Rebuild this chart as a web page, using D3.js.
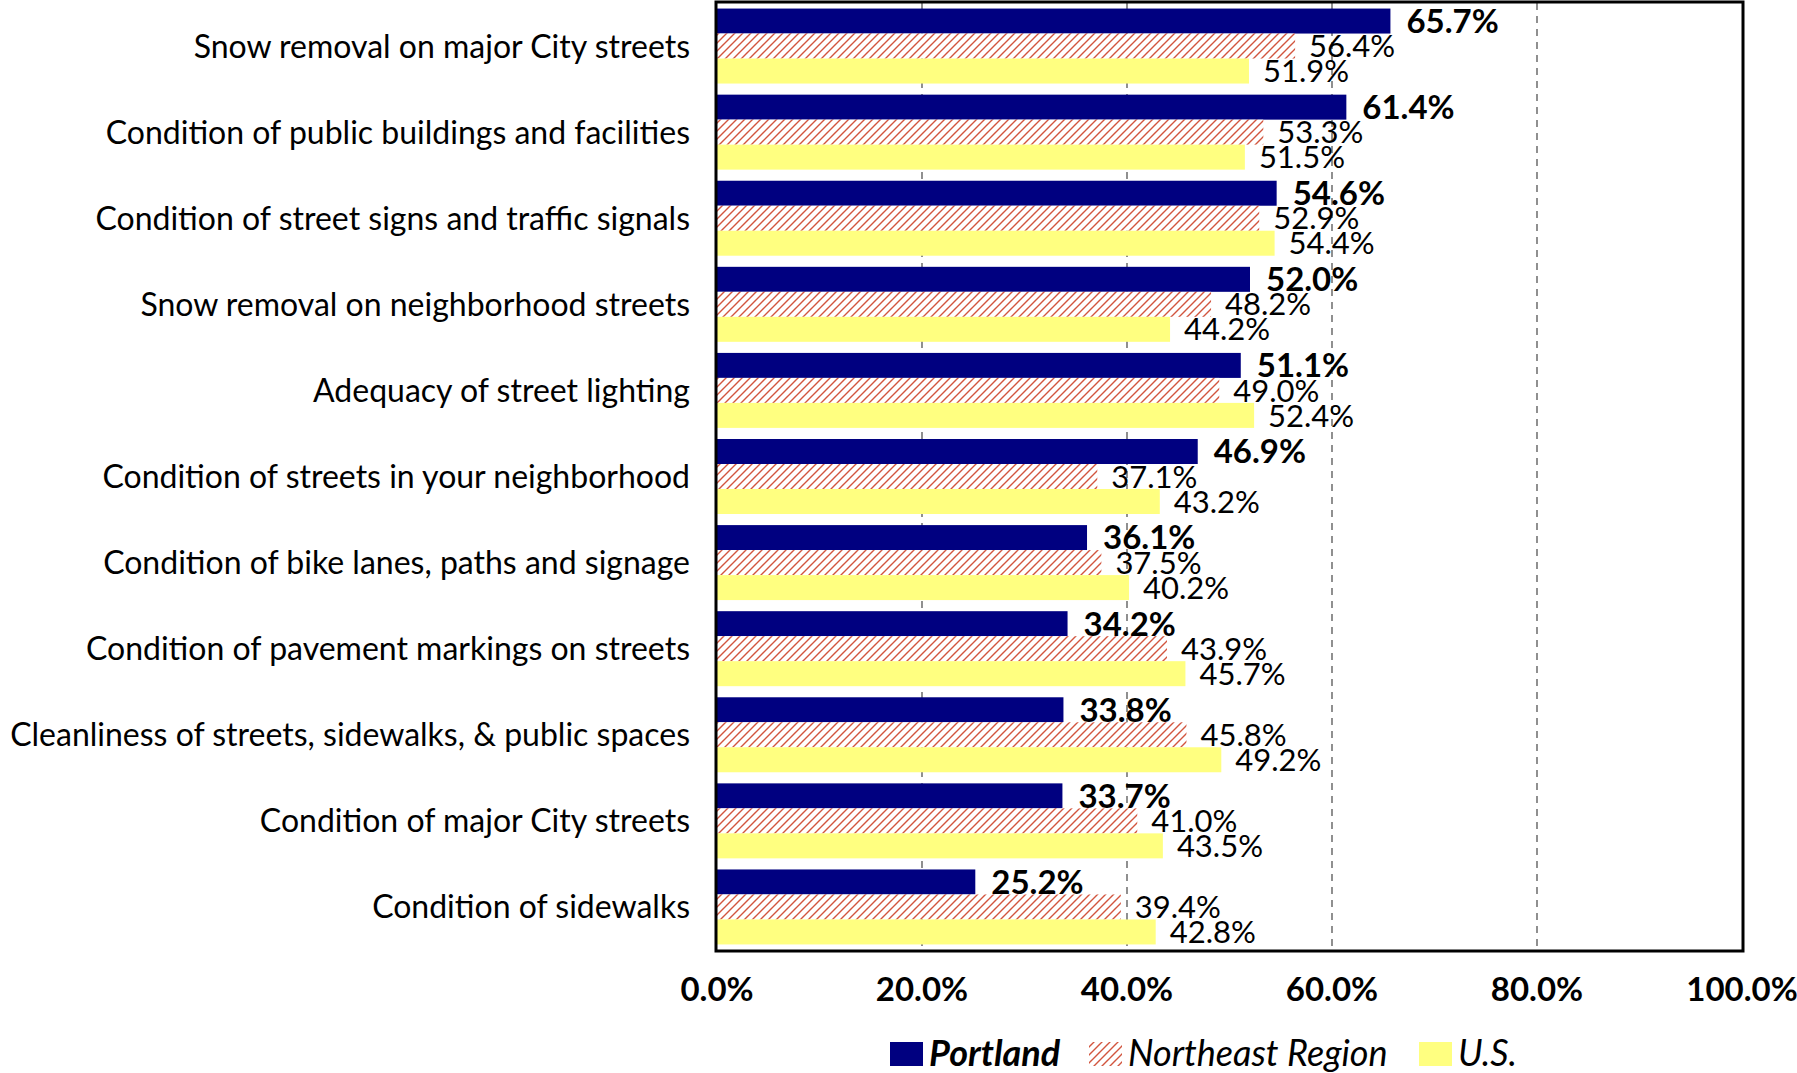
<!DOCTYPE html>
<html>
<head>
<meta charset="utf-8">
<script src="https://cdn.jsdelivr.net/npm/d3@7"></script>
<style>
  html, body { margin: 0; padding: 0; background: #fff; }
  svg { display: block; }
  text { font-family: Lato, "Open Sans", sans-serif; fill: #000; }
</style>
</head>
<body>
<svg id="chart" width="1797" height="1073"></svg>
<script>
const categories = [
  "Snow removal on major City streets",
  "Condition of public buildings and facilities",
  "Condition of street signs and traffic signals",
  "Snow removal on neighborhood streets",
  "Adequacy of street lighting",
  "Condition of streets in your neighborhood",
  "Condition of bike lanes, paths and signage",
  "Condition of pavement markings on streets",
  "Cleanliness of streets, sidewalks, & public spaces",
  "Condition of major City streets",
  "Condition of sidewalks"
];
const seriesNames = ["Portland", "Northeast Region", "U.S."];
const portland  = [65.7, 61.4, 54.6, 52.0, 51.1, 46.9, 36.1, 34.2, 33.8, 33.7, 25.2];
const northeast = [56.4, 53.3, 52.9, 48.2, 49.0, 37.1, 37.5, 43.9, 45.8, 41.0, 39.4];
const us        = [51.9, 51.5, 54.4, 44.2, 52.4, 43.2, 40.2, 45.7, 49.2, 43.5, 42.8];
const xTicks = [0, 20, 40, 60, 80, 100];

const seriesValues = [portland, northeast, us];

const svg = d3.select("#chart");
const plot = { left: 717, right: 1742, top: 3, bottom: 950 };

const x = d3.scaleLinear().domain([0, 100]).range([plot.left, plot.right]);
const y = d3.scaleBand().domain(categories).range([plot.top, plot.bottom])
  .paddingInner(0.129).paddingOuter(0.0645);
const ys = d3.scaleBand().domain(seriesNames).range([0, y.bandwidth()]);

// hatch pattern
const defs = svg.append("defs");
const pat = defs.append("pattern")
  .attr("id", "hatch").attr("patternUnits", "userSpaceOnUse")
  .attr("width", 8).attr("height", 8);
pat.append("rect").attr("width", 8).attr("height", 8).attr("fill", "#fff");
pat.append("path").attr("d", "M-2,2 L2,-2 M0,8 L8,0 M6,10 L10,6")
  .attr("stroke", "#d2553e").attr("stroke-width", 1.4);

const fills = ["#000080", "url(#hatch)", "#ffff80"];

// gridlines
svg.append("g").selectAll("line").data(xTicks.filter(t => t > 0 && t < 100))
  .join("line")
  .attr("x1", d => x(d)).attr("x2", d => x(d))
  .attr("y1", plot.top).attr("y2", plot.bottom)
  .attr("stroke", "#555").attr("stroke-width", 1.3)
  .attr("stroke-dasharray", "7,6");

// bars
seriesValues.forEach((vals, si) => {
  svg.append("g").selectAll("rect").data(categories)
    .join("rect")
    .attr("x", x(0))
    .attr("y", (c) => y(c) + ys(seriesNames[si]))
    .attr("width", (c, i) => x(vals[i]) - x(0))
    .attr("height", ys.bandwidth())
    .attr("fill", fills[si]);
});

// value labels
seriesValues.forEach((vals, si) => {
  svg.append("g").selectAll("text").data(categories)
    .join("text")
    .attr("x", (c, i) => x(vals[i]) + (si === 0 ? 16 : 14))
    .attr("y", (c) => y(c) + ys(seriesNames[si]) + ys.bandwidth() / 2)
    .attr("dy", "0.36em")
    .attr("font-size", si === 0 ? 33 : 31)
    .attr("font-weight", si === 0 ? "bold" : "normal")
    .text((c, i) => vals[i].toFixed(1) + "%");
});

// border
svg.append("rect")
  .attr("x", plot.left - 1).attr("y", plot.top - 1)
  .attr("width", plot.right - plot.left + 2).attr("height", plot.bottom - plot.top + 2)
  .attr("fill", "none").attr("stroke", "#000").attr("stroke-width", 3);

// category labels
svg.append("g").selectAll("text").data(categories)
  .join("text")
  .attr("x", 690)
  .attr("y", c => y(c) + y.bandwidth() / 2)
  .attr("dy", "0.36em")
  .attr("text-anchor", "end")
  .attr("font-size", 32)
  .text(c => c);

// x tick labels
svg.append("g").selectAll("text").data(xTicks)
  .join("text")
  .attr("x", d => x(d))
  .attr("y", 1001)
  .attr("text-anchor", "middle")
  .attr("font-size", 33)
  .attr("font-weight", "bold")
  .text(d => d.toFixed(1) + "%");

// legend
const legendX = [890, 1089, 1419];
const legend = svg.append("g");
seriesNames.forEach((name, i) => {
  legend.append("rect")
    .attr("x", legendX[i]).attr("y", 1042)
    .attr("width", 33).attr("height", 24)
    .attr("fill", fills[i]);
  legend.append("text")
    .attr("x", legendX[i] + 39).attr("y", 1066)
    .attr("font-size", 36)
    .attr("font-style", "italic")
    .attr("font-weight", i === 0 ? "bold" : "normal")
    .text(name);
});
</script>
</body>
</html>
